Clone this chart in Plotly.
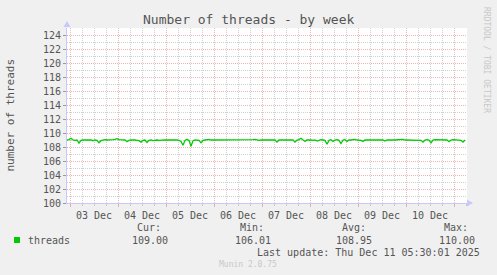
import pandas as pd
import plotly.graph_objects as go

# ---------------- data ----------------
start_time = "2025-12-02 22:30"
end_time = "2025-12-11 06:30"
threads = [
    109.0, 109.05, 109.25, 109.0, 108.95, 109.0, 108.55, 108.95, 109.0, 109.0,
    109.05, 108.95, 109.0, 108.9, 109.0, 108.95, 108.6, 108.9, 109.0, 109.05,
    109.0, 109.0, 108.95, 109.05, 109.1, 109.2, 109.05, 109.0, 108.95, 109.0,
    108.75, 108.95, 109.0, 109.05, 109.0, 108.95, 108.9, 108.7, 108.95, 109.0,
    108.65, 108.95, 109.0, 108.9, 109.0, 109.0, 108.95, 109.0, 109.05, 109.0,
    109.0, 108.95, 109.0, 109.0, 109.05, 109.0, 108.95, 108.8, 108.25, 108.95,
    109.1, 108.95, 108.1, 108.9, 109.0, 109.0, 108.95, 108.6, 108.95, 109.0,
    109.05, 109.1, 109.0, 109.0, 109.0, 109.0, 108.95, 109.0, 109.0, 109.0,
    109.0, 108.95, 109.0, 109.0, 109.05, 109.0, 109.0, 108.95, 109.0, 109.0,
    109.0, 109.0, 109.05, 109.05, 109.1, 109.0, 108.95, 109.0, 109.0, 109.0,
    109.0, 109.05, 109.0, 108.95, 109.0, 108.7, 109.0, 109.0, 109.05, 109.0,
    109.0, 108.95, 109.0, 109.0, 108.7, 109.0, 109.05, 109.25, 109.0, 108.8,
    109.0, 109.05, 109.0, 108.95, 109.0, 108.85, 109.0, 109.05, 109.0, 108.95,
    108.4, 108.95, 109.05, 108.8, 109.0, 109.05, 108.95, 108.5, 109.0, 109.05,
    108.8, 109.0, 109.0, 109.05, 109.1, 109.0, 109.0, 108.95, 108.8, 109.0,
    109.0, 109.0, 109.05, 109.0, 109.0, 108.95, 109.0, 109.0, 109.0, 108.85,
    109.0, 109.0, 109.05, 109.0, 109.0, 109.05, 109.0, 109.05, 109.1, 109.0,
    109.0, 108.95, 109.0, 109.0, 109.05, 109.0, 109.0, 108.95, 108.7, 109.0,
    109.05, 109.0, 108.6, 109.0, 109.05, 109.05, 109.0, 109.0, 108.95, 109.0,
    109.0, 108.75, 109.0, 109.05, 109.0, 109.0, 109.0, 108.95, 108.7, 109.0,
]
times = pd.date_range(start_time, periods=len(threads), freq="1h")

title_text = "Number of threads - by week"
y_title = "number of threads"
series_name = "threads"
stat_labels = ["Cur:", "Min:", "Avg:", "Max:"]
stat_values = ["109.00", "106.01", "108.95", "110.00"]
last_update = "Last update: Thu Dec 11 05:30:01 2025"
footer = "Munin 2.0.75"
side_text = "RRDTOOL / TOBI OETIKER"

# ---------------- layout constants ----------------
W, H = 497, 275
L, R, T, B = 67, 467, 28, 203
PW, PH = R - L, B - T
MONO = "DejaVu Sans Mono"
TXT = "#555555"
GREEN = "#00CC00"
MAJ = "rgba(220,110,110,0.5)"
MIN = "rgba(140,140,140,0.4)"
AXIS = "#C8C8FF"
DOTS = "1px,1px"


def px(x):
    return (x - L) / PW


def py(y):
    return (B - y) / PH


fig = go.Figure()
fig.add_trace(go.Scatter(x=times, y=threads, mode="lines",
                         line=dict(color=GREEN, width=1.3),
                         showlegend=False, hoverinfo="skip"))

fig.update_layout(
    width=W, height=H,
    margin=dict(l=L, r=W - R, t=T, b=H - B, pad=0),
    paper_bgcolor="#F0F0F0", plot_bgcolor="white",
    font=dict(family=MONO, size=10, color=TXT),
    showlegend=False,
)

fig.update_xaxes(
    type="date", range=[start_time, end_time],
    dtick=86400000, tick0="2025-12-03 00:00",
    ticklabelmode="period", tickformat="%d %b",
    showgrid=True, gridcolor=MAJ, griddash=DOTS, gridwidth=1,
    ticks="outside", ticklen=3, tickcolor=MAJ,
    minor=dict(dtick=6 * 3600000, showgrid=True, gridcolor=MIN,
               griddash=DOTS, ticks="outside", ticklen=2, tickcolor=MIN),
    showline=True, linecolor=AXIS, linewidth=1,
    tickfont=dict(family=MONO, size=10, color=TXT),
    zeroline=False, mirror=False,
)
fig.update_yaxes(
    range=[100, 125], dtick=2, tick0=100,
    showgrid=True, gridcolor=MAJ, griddash=DOTS, gridwidth=1,
    ticks="outside", ticklen=3, tickcolor="#999999",
    minor=dict(dtick=1, showgrid=True, gridcolor=MIN, griddash=DOTS),
    showline=True, linecolor=AXIS, linewidth=1,
    tickfont=dict(family=MONO, size=10, color=TXT),
    zeroline=False,
)

# axis arrows
fig.add_shape(type="path", xref="paper", yref="paper",
              path=f"M {px(63.5)} {py(27)} L {px(67)} {py(21)} L {px(70.5)} {py(27)} Z",
              fillcolor=AXIS, line=dict(color=AXIS, width=0))
fig.add_shape(type="path", xref="paper", yref="paper",
              path=f"M {px(467)} {py(199.5)} L {px(473)} {py(203)} L {px(467)} {py(206.5)} Z",
              fillcolor=AXIS, line=dict(color=AXIS, width=0))

anns = []
anns.append(dict(text=title_text, x=px(248), y=py(19), xanchor="center", yanchor="middle",
                 font=dict(family=MONO, size=13, color=TXT)))
anns.append(dict(text=y_title, x=px(10), y=py(115.5), xanchor="center", yanchor="middle",
                 textangle=-90, font=dict(family=MONO, size=11, color=TXT)))
anns.append(dict(text=side_text, x=px(487), y=py(5), xanchor="center", yanchor="top",
                 textangle=90, font=dict(family=MONO, size=8, color="#C8C8C8")))
# legend
fig.add_shape(type="rect", xref="paper", yref="paper",
              x0=px(14), x1=px(20), y0=py(243), y1=py(237),
              fillcolor=GREEN, line=dict(width=0))
anns.append(dict(text=series_name, x=px(26), y=py(240), xanchor="left", yanchor="middle"))
label_right = [163, 266, 368, 470]
value_right = [170, 273, 374, 477]
for lab, val, lr, vr in zip(stat_labels, stat_values, label_right, value_right):
    anns.append(dict(text=lab, x=px(lr), y=py(227), xanchor="right", yanchor="middle"))
    anns.append(dict(text=val, x=px(vr), y=py(240), xanchor="right", yanchor="middle"))
anns.append(dict(text=last_update, x=px(482), y=py(252), xanchor="right", yanchor="middle"))
anns.append(dict(text=footer, x=px(248), y=py(264), xanchor="center", yanchor="middle",
                 font=dict(family=MONO, size=8, color="#C8C8C8")))

for a in anns:
    a.setdefault("font", dict(family=MONO, size=10, color=TXT))
    a.update(xref="paper", yref="paper", showarrow=False)
fig.update_layout(annotations=anns)

fig.write_html("out.html")
